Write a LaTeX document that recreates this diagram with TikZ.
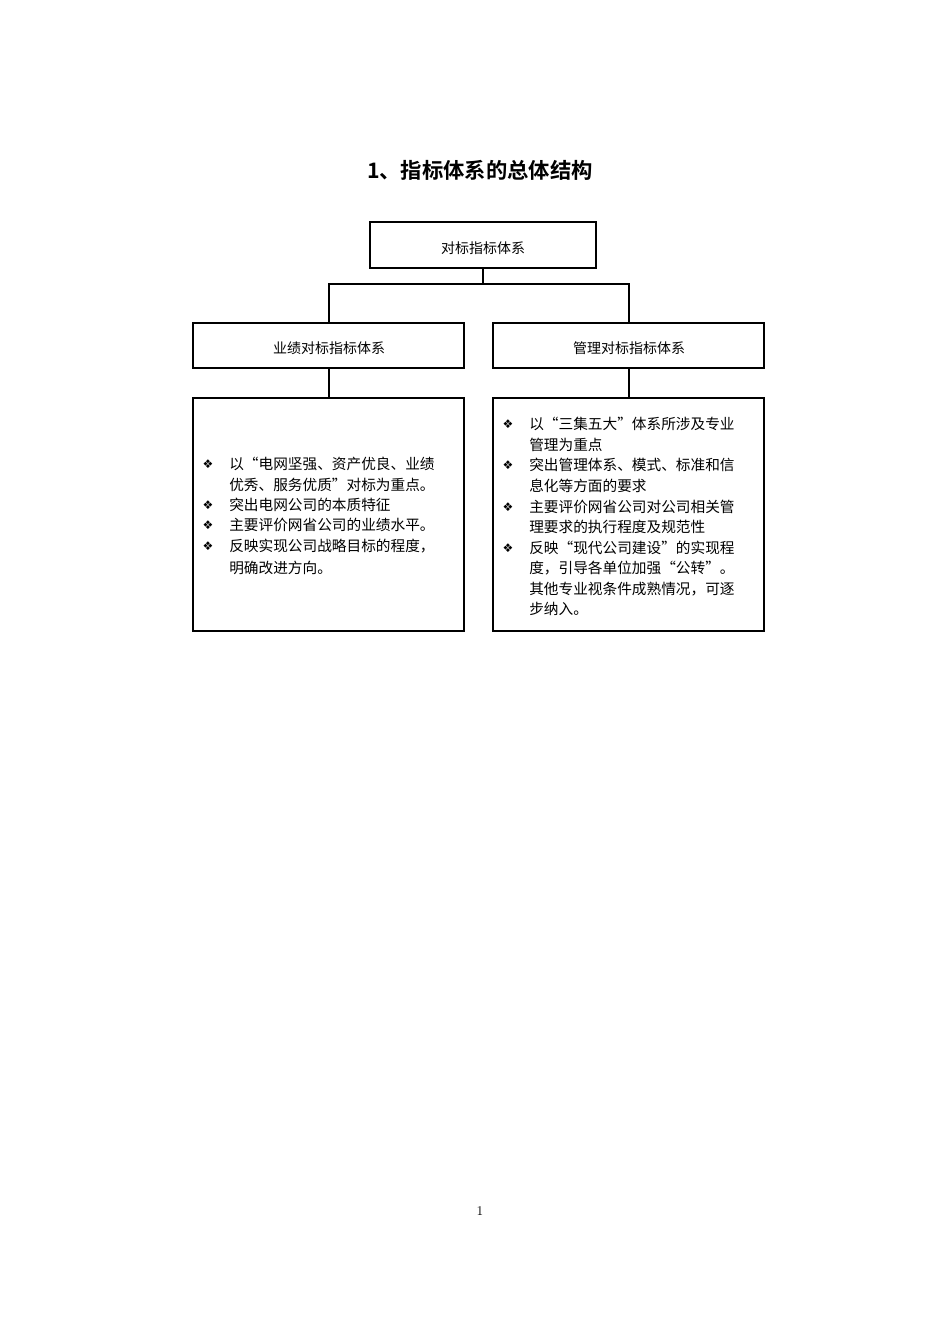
\documentclass[tikz,border=0pt]{standalone}
\usepackage{fontspec}
\newfontfamily\cjk{Noto Sans CJK SC}
\newfontfamily\cjkb{Noto Sans CJK SC Bold}
\newfontfamily\dv{DejaVu Sans}
\begin{document}
\begin{tikzpicture}[x=0.75pt,y=-0.75pt,
  box/.style={draw,line width=0.8pt},
  txt/.style={anchor=west,inner sep=0pt,font=\cjk\fontsize{11pt}{13pt}\selectfont},
  bul/.style={anchor=center,inner sep=0pt,font=\dv\fontsize{9pt}{10pt}\selectfont},
  lab/.style={inner sep=0pt,font=\cjk\fontsize{10.5pt}{12pt}\selectfont}]
\useasboundingbox (0,0) rectangle (950,1344);
\node[font=\cjkb\fontsize{16pt}{19pt}\selectfont] (title) at (480,170) {1、指标体系的总体结构};
\draw[box] (370,222) rectangle (596,268);
\draw[line width=1.2pt] (370,222) -- (596,222);
\node[lab] (top) at (483,248) {对标指标体系};
\draw[box] (193,323) rectangle (464,368);
\node[lab] (l) at (329,348) {业绩对标指标体系};
\draw[box] (493,323) rectangle (764,368);
\node[lab] (r) at (629,348) {管理对标指标体系};
\draw[line width=0.8pt] (483,268) -- (483,284) (329,323) -- (329,284) -- (629,284) -- (629,323);
\draw[line width=0.8pt] (329,368) -- (329,398) (629,368) -- (629,398);
\draw[box] (193,398) rectangle (464,631);
\draw[box] (493,398) rectangle (764,631);
% left
\foreach \y in {464,505,525,546} \node[bul] at (208,\y) {❖};
\node[txt] (l1) at (229,464) {以“电网坚强、资产优良、业绩};
\node[txt] (l2) at (229,485) {优秀、服务优质”对标为重点。};
\node[txt] (l3) at (229,505) {突出电网公司的本质特征};
\node[txt] (l4) at (229,525) {主要评价网省公司的业绩水平。};
\node[txt] (l5) at (229,546) {反映实现公司战略目标的程度，};
\node[txt] (l6) at (229,568) {明确改进方向。};
% right
\foreach \y in {424,465,507,548} \node[bul] at (508,\y) {❖};
\node[txt] (r1) at (529,424) {以“三集五大”体系所涉及专业};
\node[txt] (r2) at (529,445) {管理为重点};
\node[txt] (r3) at (529,465) {突出管理体系、模式、标准和信};
\node[txt] (r4) at (529,486) {息化等方面的要求};
\node[txt] (r5) at (529,507) {主要评价网省公司对公司相关管};
\node[txt] (r6) at (529,527) {理要求的执行程度及规范性};
\node[txt] (r7) at (529,548) {反映“现代公司建设”的实现程};
\node[txt] (r8) at (529,568) {度，引导各单位加强“公转”。};
\node[txt] (r9) at (529,589) {其他专业视条件成熟情况，可逐};
\node[txt] (r10) at (529,609) {步纳入。};
\node[font=\fontsize{10pt}{12pt}\selectfont] (pg) at (480,1211) {1};
\end{tikzpicture}
\end{document}
